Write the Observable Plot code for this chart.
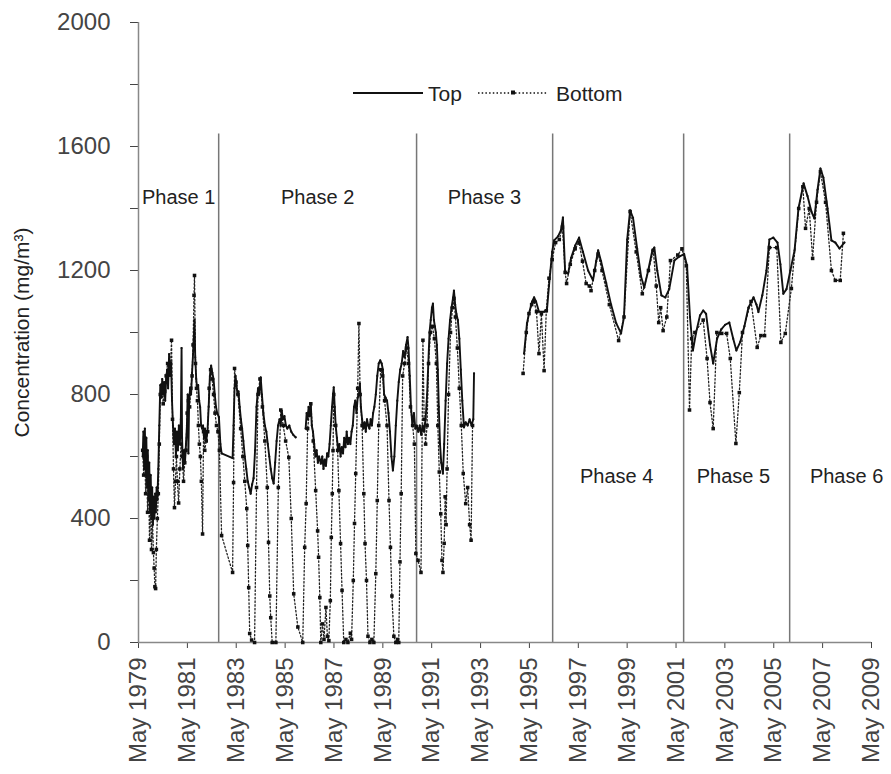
<!DOCTYPE html>
<html><head><meta charset="utf-8">
<script src="https://cdn.jsdelivr.net/npm/d3@7"></script>
<script src="https://cdn.jsdelivr.net/npm/@observablehq/plot@0.6"></script>
<style>
body{margin:0;background:#fff;font-family:"Liberation Sans",Arial,sans-serif;}
#wrap{position:relative;width:891px;height:774px;}
.lg{position:absolute;font-size:21px;color:#222;line-height:1;}
</style></head><body><div id="wrap"></div>
<script>
// ---------- data ----------
const tickYears = [1979,1981,1983,1985,1987,1989,1991,1993,1995,1997,1999,2001,2003,2005,2007,2009];
const yTicks = [0,200,400,600,800,1000,1200,1400,1600,1800,2000];
const yLabelTicks = [0,400,800,1200,1600,2000];
const phaseBoundaries = [1982.61, 1990.71, 1996.28, 2001.64, 2005.98];
const phaseNames = ["Phase 1","Phase 2","Phase 3","Phase 4","Phase 5","Phase 6"];
const phaseLabelYears = [1980.97, 1986.66, 1993.49, 1998.90, 2003.68, 2008.31];
const phaseLabelValues = [1435, 1435, 1435, 535, 535, 535];
const yAxisLabel = "Concentration (mg/m³)";
const seriesNames = ["Top", "Bottom"];

// [decimal year, concentration]; null = no data (line break)
const topSeries = [
[1979.50,600],[1979.53,680],[1979.56,560],[1979.59,690],[1979.62,540],[1979.65,660],[1979.68,500],[1979.71,620],[1979.74,460],[1979.77,580],[1979.80,420],[1979.83,540],[1979.86,400],[1979.89,500],[1979.92,380],[1979.95,470],[1979.98,400],[1980.01,480],[1980.04,420],[1980.07,500],[1980.10,460],[1980.14,560],[1980.18,700],[1980.22,830],[1980.26,790],[1980.30,850],[1980.34,800],[1980.38,840],[1980.42,780],[1980.46,850],[1980.50,880],[1980.54,820],[1980.58,930],[1980.62,860],[1980.66,900],[1980.70,780],[1980.74,700],[1980.78,640],[1980.82,690],[1980.86,600],[1980.90,680],[1980.94,620],[1980.98,700],[1981.02,640],[1981.06,720],[1981.09,950],[1981.11,660],[1981.15,560],[1981.19,620],[1981.23,580],[1981.27,640],[1981.31,700],[1981.34,800],[1981.37,610],[1981.40,780],[1981.44,820],[1981.48,800],[1981.52,870],[1981.56,930],[1981.60,1000],[1981.62,1040],[1981.65,920],[1981.69,850],[1981.73,820],[1981.77,830],[1981.81,780],[1981.85,760],[1981.89,700],[1981.93,690],[1981.97,700],[1982.01,660],[1982.05,690],[1982.10,650],[1982.15,680],[1982.20,760],[1982.25,860],[1982.30,893],[1982.35,870],[1982.40,850],[1982.45,800],[1982.50,760],[1982.55,740],[1982.62,727],[1982.68,640],[1982.73,610],[1983.18,595],
[1983.22,700],[1983.26,820],[1983.30,860],[1983.34,830],[1983.38,800],[1983.42,810],[1983.47,760],[1983.52,720],[1983.57,690],[1983.62,650],[1983.68,600],[1983.74,560],[1983.80,520],[1983.86,500],[1983.92,480],[1983.98,510],[1984.04,530],[1984.10,620],[1984.16,760],[1984.22,820],[1984.27,800],[1984.33,855],[1984.38,800],[1984.44,740],[1984.50,700],[1984.56,680],[1984.62,640],[1984.68,600],[1984.74,560],[1984.80,530],[1984.86,513],[1984.92,580],[1984.98,650],[1985.04,700],[1985.10,720],[1985.15,700],[1985.19,748],[1985.24,720],[1985.30,730],[1985.36,700],[1985.42,690],[1985.50,700],[1985.58,680],[1985.66,670],[1985.76,662],[1985.95,null],
[1986.17,690],[1986.21,740],[1986.25,720],[1986.29,760],[1986.33,730],[1986.38,770],[1986.42,700],[1986.47,680],[1986.52,640],[1986.57,600],[1986.62,620],[1986.67,580],[1986.72,600],[1986.79,577],[1986.85,600],[1986.90,560],[1986.95,590],[1987.00,570],[1987.05,610],[1987.10,600],[1987.15,640],[1987.20,700],[1987.25,760],[1987.29,800],[1987.32,823],[1987.36,760],[1987.40,700],[1987.45,660],[1987.50,620],[1987.55,640],[1987.60,600],[1987.65,630],[1987.70,610],[1987.75,660],[1987.80,630],[1987.85,680],[1987.90,640],[1987.95,660],[1988.00,640],[1988.05,680],[1988.10,700],[1988.15,760],[1988.20,780],[1988.25,740],[1988.30,790],[1988.35,800],[1988.39,835],[1988.43,760],[1988.48,720],[1988.53,690],[1988.58,710],[1988.63,680],[1988.68,720],[1988.73,700],[1988.78,690],[1988.83,720],[1988.88,700],[1988.93,740],[1988.98,760],[1989.04,800],[1989.10,860],[1989.16,900],[1989.22,910],[1989.28,900],[1989.33,880],[1989.38,800],[1989.44,790],[1989.50,780],[1989.56,740],[1989.62,680],[1989.68,600],[1989.74,555],[1989.80,600],[1989.86,700],[1989.92,780],[1989.98,840],[1990.04,880],[1990.10,900],[1990.16,940],[1990.22,920],[1990.28,960],[1990.34,985],[1990.38,950],[1990.43,860],[1990.48,760],[1990.54,700],[1990.60,740],[1990.66,690],[1990.72,700],
[1990.78,680],[1990.84,700],[1990.90,670],[1990.96,700],[1991.02,680],[1991.08,720],[1991.14,800],[1991.19,900],[1991.24,1000],[1991.29,1040],[1991.34,1080],[1991.38,1093],[1991.42,1040],[1991.46,1020],[1991.50,1000],[1991.54,960],[1991.58,880],[1991.62,760],[1991.67,640],[1991.72,580],[1991.76,560],[1991.79,545],[1991.84,640],[1991.90,780],[1991.96,900],[1992.02,980],[1992.08,1040],[1992.14,1080],[1992.20,1110],[1992.24,1135],[1992.29,1090],[1992.34,1060],[1992.40,1040],[1992.46,980],[1992.52,880],[1992.58,780],[1992.65,694],[1992.72,710],[1992.80,700],[1992.88,720],[1992.96,700],[1993.03,720],[1993.06,868],[1994.00,null],
[1995.11,932],[1995.23,1030],[1995.31,1061],[1995.44,1100],[1995.52,1113],[1995.60,1100],[1995.72,1067],[1995.93,1067],[1996.05,1075],[1996.13,1150],[1996.26,1260],[1996.34,1297],[1996.50,1310],[1996.62,1330],[1996.70,1371],[1996.79,1194],[1996.91,1190],[1997.03,1240],[1997.20,1280],[1997.36,1306],[1997.52,1260],[1997.73,1200],[1997.93,1168],[1998.06,1230],[1998.14,1265],[1998.26,1230],[1998.47,1160],[1998.67,1090],[1998.88,1030],[1999.08,997],[1999.20,1050],[1999.33,1300],[1999.45,1394],[1999.57,1370],[1999.74,1270],[1999.90,1180],[2000.03,1145],[2000.19,1200],[2000.36,1265],[2000.44,1274],[2000.56,1200],[2000.73,1120],[2000.89,1113],[2001.05,1140],[2001.26,1232],[2001.46,1245],[2001.66,1253],[2001.78,1215],[2001.90,1050],[2002.02,942],[2002.15,1000],[2002.31,1055],[2002.44,1071],[2002.56,1060],[2002.72,960],[2002.85,900],[2003.01,980],[2003.18,1010],[2003.34,1025],[2003.51,1032],[2003.67,980],[2003.80,942],[2003.96,970],[2004.13,1020],[2004.29,1080],[2004.50,1113],[2004.62,1090],[2004.70,1066],[2004.86,1120],[2005.03,1200],[2005.15,1300],[2005.31,1306],[2005.48,1290],[2005.60,1220],[2005.72,1125],[2005.85,1140],[2006.01,1200],[2006.18,1265],[2006.34,1400],[2006.55,1481],[2006.71,1440],[2006.87,1390],[2006.99,1368],[2007.12,1460],[2007.24,1529],[2007.36,1500],[2007.53,1400],[2007.69,1297],[2007.85,1290],[2008.02,1271],[2008.22,1290]
];

const bottomSeries = [
[1979.50,620],[1979.54,540],[1979.58,660],[1979.62,480],[1979.66,600],[1979.70,420],[1979.74,540],[1979.78,330],[1979.82,470],[1979.86,300],[1979.90,400],[1979.94,290],[1979.97,240],[1980.00,180],[1980.03,174],[1980.06,300],[1980.10,400],[1980.14,480],[1980.18,640],[1980.22,800],[1980.28,830],[1980.34,770],[1980.40,810],[1980.46,860],[1980.52,900],[1980.58,880],[1980.64,900],[1980.68,975],[1980.72,720],[1980.76,560],[1980.80,435],[1980.84,520],[1980.88,600],[1980.92,520],[1980.97,450],[1981.02,560],[1981.07,640],[1981.12,600],[1981.17,520],[1981.22,580],[1981.27,620],[1981.32,740],[1981.37,780],[1981.42,760],[1981.47,820],[1981.52,860],[1981.56,960],[1981.60,1120],[1981.62,1184],[1981.66,900],[1981.70,820],[1981.74,780],[1981.78,700],[1981.82,640],[1981.86,600],[1981.90,520],[1981.95,350],[1981.99,680],[1982.04,620],[1982.10,650],[1982.16,680],[1982.22,820],[1982.28,880],[1982.34,850],[1982.40,800],[1982.46,740],[1982.52,700],[1982.58,680],[1982.64,620],[1982.73,345],[1983.18,226],
[1983.22,516],[1983.26,884],[1983.32,840],[1983.40,800],[1983.51,690],[1983.60,600],[1983.68,520],[1983.76,432],[1983.80,313],[1983.84,177],[1983.88,29],[1983.96,8],[1984.08,0],[1984.16,500],[1984.22,800],[1984.30,850],[1984.40,760],[1984.50,650],[1984.60,500],[1984.65,323],[1984.70,150],[1984.74,80],[1984.80,0],[1984.95,0],[1985.05,500],[1985.15,750],[1985.25,700],[1985.35,650],[1985.48,597],[1985.58,400],[1985.68,157],[1985.85,50],[1986.05,0],[1986.13,307],[1986.19,448],[1986.25,690],[1986.32,740],[1986.38,770],[1986.48,650],[1986.58,490],[1986.66,360],[1986.70,275],[1986.75,145],[1986.79,0],[1986.86,60],[1986.92,10],[1987.00,113],[1987.06,20],[1987.12,6],[1987.18,135],[1987.22,339],[1987.26,480],[1987.29,619],[1987.32,800],[1987.40,700],[1987.48,620],[1987.53,490],[1987.60,319],[1987.66,168],[1987.73,0],[1987.82,10],[1987.90,0],[1988.00,30],[1988.05,10],[1988.12,200],[1988.17,384],[1988.22,545],[1988.30,820],[1988.35,1029],[1988.40,800],[1988.48,700],[1988.55,480],[1988.60,319],[1988.66,200],[1988.72,20],[1988.80,0],[1988.88,10],[1988.96,0],[1989.04,222],[1989.10,458],[1989.16,700],[1989.24,880],[1989.32,860],[1989.40,780],[1989.50,700],[1989.58,458],[1989.64,307],[1989.70,150],[1989.78,20],[1989.86,0],[1989.93,10],[1989.98,0],[1990.03,260],[1990.08,480],[1990.14,860],[1990.22,900],[1990.30,950],[1990.38,900],[1990.46,760],[1990.55,700],[1990.62,640],[1990.68,287],[1990.77,265],[1990.89,226],
[1990.97,975],[1991.02,720],[1991.08,640],[1991.14,700],[1991.20,900],[1991.28,1000],[1991.36,1020],[1991.44,980],[1991.52,900],[1991.58,700],[1991.64,550],[1991.70,415],[1991.75,265],[1991.79,226],[1991.84,320],[1991.88,470],[1991.92,380],[1991.96,560],[1992.02,800],[1992.10,1000],[1992.18,1080],[1992.24,1110],[1992.30,1050],[1992.38,950],[1992.46,820],[1992.54,700],[1992.62,545],[1992.72,448],[1992.80,500],[1992.88,380],[1992.94,330],[1993.00,700],[1994.00,null],
[1995.07,868],[1995.20,1000],[1995.31,1061],[1995.42,1090],[1995.52,1100],[1995.62,1067],[1995.72,932],[1995.82,1060],[1995.93,877],[1996.02,1070],[1996.13,1175],[1996.26,1235],[1996.40,1290],[1996.55,1300],[1996.68,1340],[1996.79,1194],[1996.85,1158],[1997.00,1220],[1997.20,1270],[1997.36,1290],[1997.50,1230],[1997.65,1158],[1997.78,1150],[1997.85,1135],[1998.00,1200],[1998.14,1253],[1998.30,1200],[1998.60,1090],[1998.98,974],[1999.20,1050],[1999.45,1390],[1999.70,1260],[1999.95,1125],[2000.20,1200],[2000.40,1265],[2000.52,1150],[2000.62,1032],[2000.70,1080],[2000.80,1006],[2000.95,1050],[2001.10,1232],[2001.40,1250],[2001.57,1270],[2001.75,1215],[2001.88,750],[2001.97,980],[2002.10,1000],[2002.44,1040],[2002.60,916],[2002.72,774],[2002.85,690],[2003.00,1000],[2003.20,997],[2003.40,997],[2003.55,916],[2003.78,642],[2003.92,806],[2004.05,1000],[2004.40,1100],[2004.65,952],[2004.80,990],[2004.95,990],[2005.15,1274],[2005.45,1274],[2005.62,968],[2005.80,997],[2006.05,1142],[2006.35,1400],[2006.52,1470],[2006.63,1336],[2006.78,1400],[2006.92,1239],[2007.08,1420],[2007.24,1519],[2007.45,1420],[2007.69,1200],[2007.85,1168],[2008.05,1168],[2008.18,1320]
];

// ---------- helpers ----------
const toDate = y => { const yr = Math.floor(y); const s = Date.UTC(yr,0,1), e = Date.UTC(yr+1,0,1); return new Date(s + (y - yr) * (e - s)); };
const toRows = arr => arr.map(([t, v]) => ({date: toDate(t), value: v}));
const topData = toRows(topSeries);
const bottomData = toRows(bottomSeries);
const xTicks = tickYears.map(y => new Date(Date.UTC(y, 4, 1)));
const xDomain = [xTicks[0], xTicks[xTicks.length - 1]];
const phaseLabels = phaseNames.map((label, i) => ({label, date: toDate(phaseLabelYears[i]), value: phaseLabelValues[i]}));

const chart = Plot.plot({
  width: 891, height: 774,
  marginLeft: 138, marginRight: 20, marginTop: 22, marginBottom: 132,
  style: {fontFamily: "'Liberation Sans', Arial, sans-serif", background: "white", overflow: "visible"},
  x: {type: "utc", domain: xDomain},
  y: {domain: [0, 2000]},
  marks: [
    Plot.ruleX(phaseBoundaries.map(toDate), {y1: 0, y2: 1640, stroke: "#777", strokeWidth: 1.5}),
    Plot.axisY({ticks: yTicks, tickFormat: d => yLabelTicks.includes(d) ? String(d) : "", tickSize: 8, tickPadding: 20, fontSize: 24, label: null, color: "#444"}),
    Plot.axisX({ticks: xTicks, tickFormat: d3.utcFormat("%b %Y"), tickRotate: -90, tickSize: 6, tickPadding: 9, fontSize: 24, label: null, color: "#444"}),
    Plot.ruleX([xDomain[0]], {stroke: "#888", strokeWidth: 1.5}),
    Plot.ruleY([0], {stroke: "#888", strokeWidth: 1.5}),
    Plot.line(bottomData, {x: "date", y: "value", stroke: "#222", strokeWidth: 1.3, strokeDasharray: "1.5,2.2"}),
    Plot.dot(bottomData, {x: "date", y: "value", r: 2, symbol: "square", fill: "#111", stroke: null}),
    Plot.line(topData, {x: "date", y: "value", stroke: "#111", strokeWidth: 1.9}),
    Plot.dot(topData, {x: "date", y: "value", r: 1.1, fill: "#111", stroke: null}),
    Plot.text(phaseLabels, {x: "date", y: "value", text: "label", fontSize: 20, fill: "#222"}),
    Plot.text([yAxisLabel], {text: d => d, frameAnchor: "left", textAnchor: "middle", rotate: -90, dx: -116, fontSize: 21, fill: "#222"})
  ]
});
const wrap = document.getElementById("wrap");
wrap.appendChild(chart);

// legend (inside plot area, as in the reference)
const NS = "http://www.w3.org/2000/svg";
function swatch(left, dashed) {
  const s = document.createElementNS(NS, "svg");
  s.setAttribute("width", 72); s.setAttribute("height", 12);
  s.style.position = "absolute"; s.style.left = left + "px"; s.style.top = "87px";
  const l = document.createElementNS(NS, "line");
  l.setAttribute("x1", 0); l.setAttribute("x2", 70); l.setAttribute("y1", 6); l.setAttribute("y2", 6);
  l.setAttribute("stroke", "#111"); l.setAttribute("stroke-width", dashed ? 1.3 : 2);
  if (dashed) l.setAttribute("stroke-dasharray", "1.5,2.2");
  s.appendChild(l);
  const m = document.createElementNS(NS, "rect");
  m.setAttribute("x", 33); m.setAttribute("y", dashed ? 3.5 : 5); m.setAttribute("width", dashed ? 4 : 2); m.setAttribute("height", dashed ? 4 : 2);
  m.setAttribute("fill", "#111");
  s.appendChild(m);
  wrap.appendChild(s);
}
function label(left, text) {
  const d = document.createElement("div");
  d.className = "lg"; d.style.left = left + "px"; d.style.top = "83px"; d.textContent = text;
  wrap.appendChild(d);
}
swatch(353, false); label(428, seriesNames[0]);
swatch(478, true); label(556, seriesNames[1]);
</script>
</body></html>
